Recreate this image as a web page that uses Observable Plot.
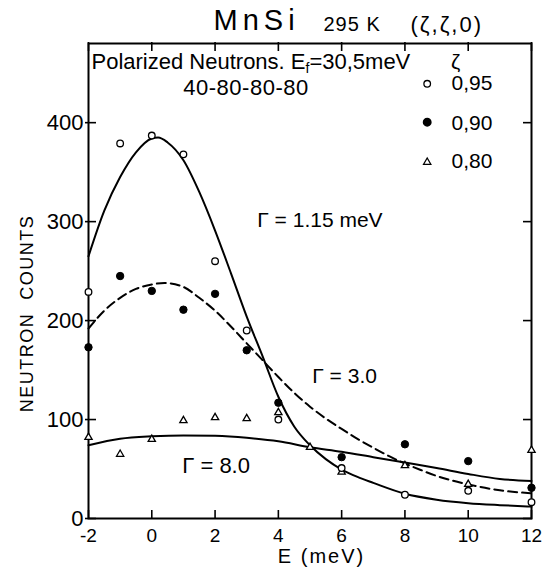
<!DOCTYPE html>
<html><head><meta charset="utf-8">
<script src="https://cdn.jsdelivr.net/npm/d3@7"></script>
<script src="https://cdn.jsdelivr.net/npm/@observablehq/plot@0.6"></script>
<style>html,body{margin:0;padding:0;background:#fff;} svg{display:block}</style>
</head><body><div id="chart"></div>
<script>
// ---- data ----
const xTicks = [-2, 0, 2, 4, 6, 8, 10, 12];
const yTicks = [0, 100, 200, 300, 400];
const legendLabels = ["0,95", "0,90", "0,80"];

const e95 = [-2, -1, 0, 1, 2, 3, 4, 6, 8, 10, 12];
const n95 = [229, 379, 387, 368, 260, 190, 100, 51, 24, 28, 16.5];
const e90 = [-2, -1, 0, 1, 2, 3, 4, 6, 8, 10, 12];
const n90 = [173, 245, 230, 211, 227, 170, 117, 62, 75, 58, 31];
const e80 = [-2, -1, 0, 1, 2, 3, 4, 5, 6, 8, 10, 12];
const n80 = [82, 65, 80, 99, 102, 101, 107, 72, 47, 53.5, 34.5, 69];

const fitLabels = ["Γ = 1.15 meV", "Γ = 3.0", "Γ = 8.0"];
const fitE115 = [-2, -1.5, -1, -0.5, 0, 0.2, 0.5, 1, 1.5, 2, 2.5, 3, 3.5, 4, 4.5, 5, 5.5, 6, 6.5, 7, 8, 9, 10, 11, 12];
const fitN115 = [265, 311, 345, 370, 384, 385, 380, 362, 330, 291, 248, 204, 164, 123, 93, 74, 60, 49.5, 42, 36, 25, 19, 15.5, 13.5, 12];
const fitE30 = [-2, -1.5, -1, -0.5, 0, 0.4, 1, 1.5, 2, 2.5, 3, 3.5, 4, 4.5, 5, 5.5, 6, 6.5, 7, 7.5, 8, 8.5, 9, 10, 11, 12];
const fitN30 = [192, 210, 223, 232, 236.5, 238, 234, 223, 210, 194, 177, 160, 143, 127, 113, 101, 90.5, 80.5, 71.5, 63, 55.5, 49, 43, 34.5, 28.5, 25.5];
const fitE80 = [-2, -1, 0, 1, 2, 3, 4, 5, 6, 7, 8, 9, 10, 11, 12];
const fitN80 = [74, 80.5, 83, 84, 83.5, 81.5, 78, 72, 67.5, 62, 56.5, 51, 45, 40, 38];

const titleMain = "MnSi", titleTemp = "295 K", titleDir = "(ζ,ζ,0)";
const noteLine1 = "Polarized Neutrons. Ef=30,5meV";
const noteLine2 = "40-80-80-80";
const legendTitle = "ζ";
const xLabel = "E (meV)", yLabel = "NEUTRON  COUNTS";

// ---- layout ----
const W = 547, H = 577, mL = 88, mR = 16, mT = 43, mB = 59;
const FW = W - mL - mR, FH = H - mT - mB;

const rows = (xs, ys, s) => xs.map((x, i) => ({E: x, N: ys[i], s}));
const pts95 = rows(e95, n95, legendLabels[0]);
const pts90 = rows(e90, n90, legendLabels[1]);
const pts80 = rows(e80, n80, legendLabels[2]);
const fit115 = rows(fitE115, fitN115, fitLabels[0]);
const fit30 = rows(fitE30, fitN30, fitLabels[1]);
const fit80 = rows(fitE80, fitN80, fitLabels[2]);

const note = (txt, dx, dy, o = {}) => Plot.text([txt], {
  text: d => d, frameAnchor: "top-left", dx, dy,
  textAnchor: "start", lineAnchor: "middle", fill: "#000", fontSize: 21, ...o
});
const lineStyle = {x: "E", y: "N", curve: "monotone-x", stroke: "#000", strokeWidth: 2};
const tickStyle = {stroke: "#000", strokeWidth: 1.6};

const chart = Plot.plot({
  width: W, height: H,
  marginLeft: mL, marginRight: mR, marginTop: mT, marginBottom: mB,
  style: {fontFamily: "'Liberation Sans', Arial, sans-serif", background: "#fff", color: "#000"},
  x: {domain: [-2, 12]},
  y: {domain: [0, 480]},
  marks: [
    Plot.line(fit115, lineStyle),
    Plot.line(fit30, {...lineStyle, strokeDasharray: "9,5"}),
    Plot.line(fit80, lineStyle),
    Plot.tickX(xTicks, {x: d => d, insetTop: FH - 8, insetBottom: -1, ...tickStyle}),
    Plot.tickX(xTicks, {x: d => d, insetBottom: FH - 8, insetTop: -1, ...tickStyle}),
    Plot.tickY(yTicks, {y: d => d, insetRight: FW - 8, insetLeft: -3, ...tickStyle}),
    Plot.tickY(yTicks, {y: d => d, insetLeft: FW - 8, insetRight: -1, ...tickStyle}),
    Plot.frame({stroke: "#000", strokeWidth: 2}),
    Plot.axisX({ticks: xTicks, tickSize: 0, tickPadding: 10, fontSize: 19, tickFormat: d => String(d), label: null}),
    Plot.axisY({ticks: yTicks, tickSize: 0, tickPadding: 5, fontSize: 22, tickFormat: d => String(d), label: null}),
    Plot.dot(pts80, {x: "E", y: "N", symbol: "triangle", r: 2.7, stroke: "#000", fill: "#fff", strokeWidth: 1.3}),
    Plot.dot(pts95, {x: "E", y: "N", r: 3.3, stroke: "#000", fill: "#fff", strokeWidth: 1.3}),
    Plot.dot(pts90, {x: "E", y: "N", r: 3.7, stroke: "#000", fill: "#000", strokeWidth: 1}),
    // legend
    Plot.dot([legendLabels[0]], {frameAnchor: "top-left", dx: 338.7, dy: 40.3, r: 3.3, stroke: "#000", fill: "#fff", strokeWidth: 1.3}),
    Plot.dot([legendLabels[1]], {frameAnchor: "top-left", dx: 338.7, dy: 78.7, r: 3.7, stroke: "#000", fill: "#000"}),
    Plot.dot([legendLabels[2]], {frameAnchor: "top-left", dx: 338.7, dy: 118.7, symbol: "triangle", r: 2.7, stroke: "#000", fill: "#fff", strokeWidth: 1.3}),
    note(legendLabels[0], 363, 40),
    note(legendLabels[1], 363, 79.5),
    note(legendLabels[2], 363, 117.5),
    note(legendTitle, 367, 19, {textAnchor: "middle"}),
    // titles and notes
    note(titleMain, 125, -23, {fontSize: 29}),
    note(titleTemp, 235, -19, {fontSize: 20}),
    note(titleDir, 322, -19, {fontSize: 22}),
    note(noteLine1, 3, 18, {fontSize: 22}),
    note(noteLine2, 157.5, 44.5, {textAnchor: "middle", fontSize: 22}),
    note(fitLabels[0], 168.7, 177),
    note(fitLabels[1], 223.7, 333),
    note(fitLabels[2], 93.7, 422, {fontSize: 22}),
    note(xLabel, 233, 513.5, {textAnchor: "middle", fontSize: 20}),
    note(yLabel, -61.3, 270, {textAnchor: "middle", fontSize: 18, rotate: -90})
  ]
});

const spacing = {};
spacing[titleMain] = "5px";
spacing[titleTemp] = "1px";
spacing[titleDir] = "2px";
spacing[xLabel] = "2px";
spacing[yLabel] = "1.5px";
spacing[noteLine2] = "0.5px";
d3.select(chart).selectAll("text").each(function () {
  const t = this.textContent;
  if (spacing[t]) this.style.letterSpacing = spacing[t];
  if (t === noteLine1) {
    const s = d3.select(this);
    s.text(null);
    s.append("tspan").text("Polarized Neutrons. E");
    s.append("tspan").attr("font-size", "14px").attr("dy", "4").text("f");
    s.append("tspan").attr("dy", "-4").text("=30,5meV");
  }
});
document.getElementById("chart").appendChild(chart);
</script>
</body></html>
